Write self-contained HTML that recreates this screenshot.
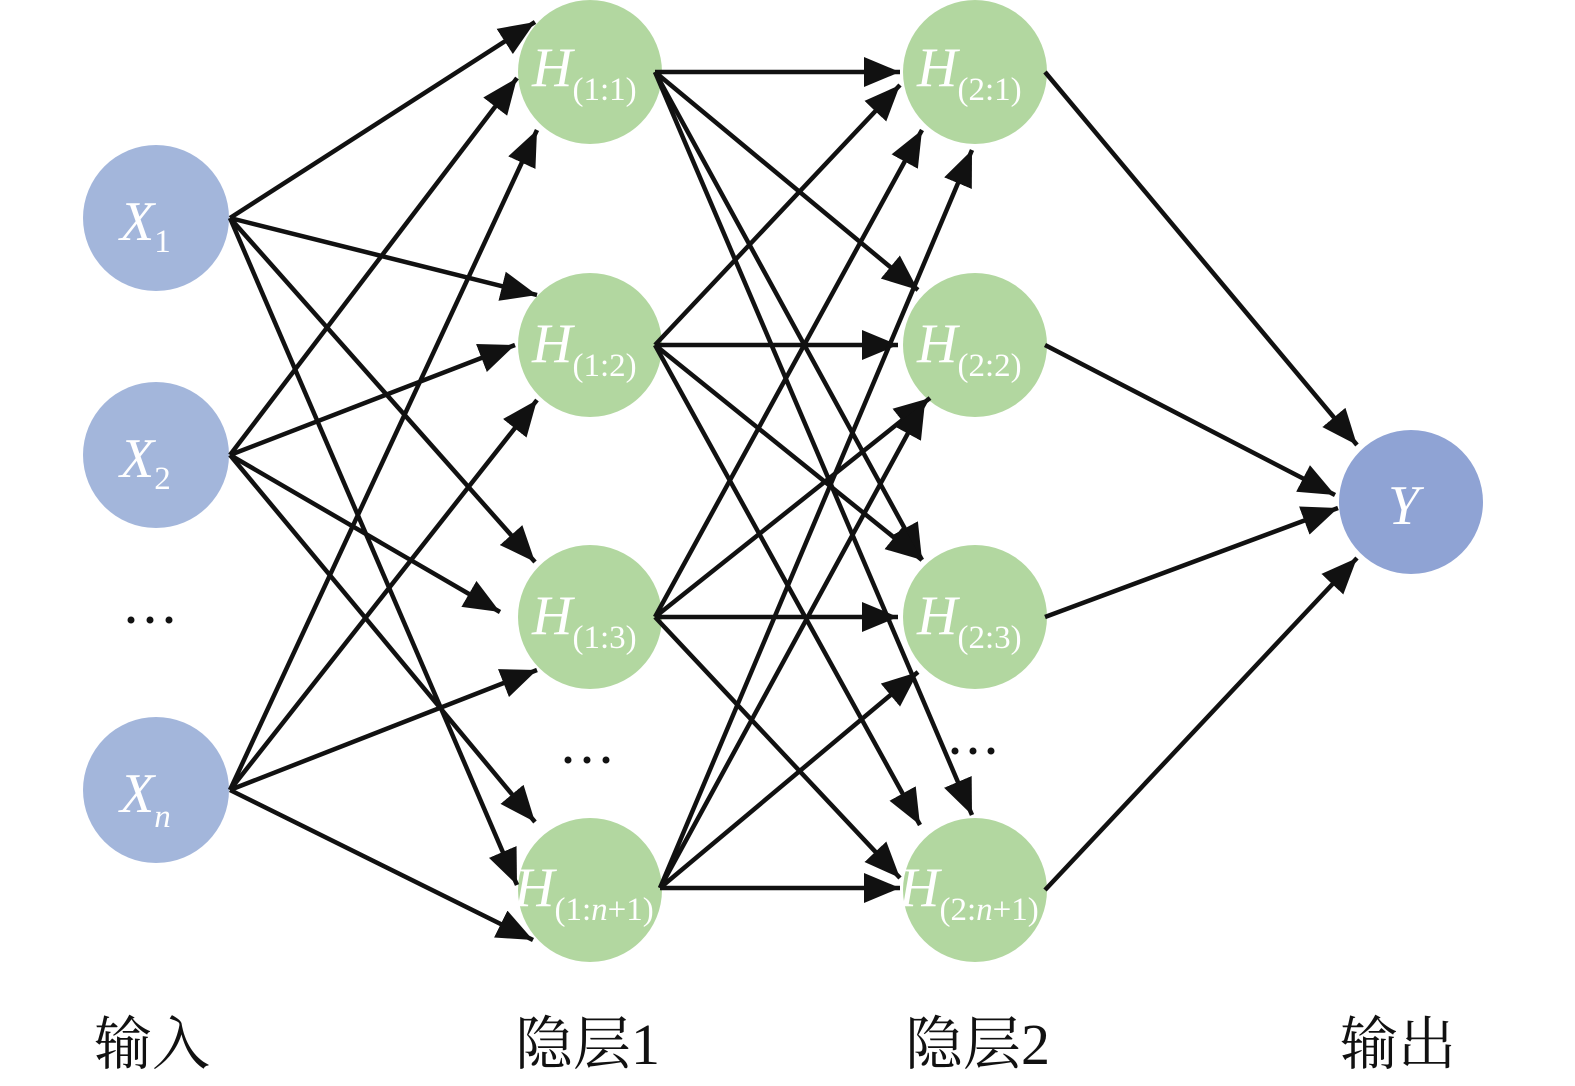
<!DOCTYPE html>
<html><head><meta charset="utf-8"><style>
html,body{margin:0;padding:0;background:#fff;}
svg{display:block}
.n{fill:#fff;font-family:"Liberation Serif",serif;font-style:italic;font-size:56px}
.s{font-style:normal;font-size:33px}
.si{font-style:italic;font-size:33px}
.lab{font-family:"Liberation Serif","Noto Serif CJK SC",serif;font-size:58px;fill:#111}
</style></head><body>
<svg width="1575" height="1086" viewBox="0 0 1575 1086" xmlns="http://www.w3.org/2000/svg">
<defs>
<marker id="a" markerUnits="userSpaceOnUse" markerWidth="38" markerHeight="30" refX="36" refY="15" orient="auto">
<path d="M0,0 L36,15 L0,30 Z" fill="#111"/></marker>
</defs>
<circle cx="156" cy="218" r="73" fill="#A3B6DB"/>
<circle cx="156" cy="455" r="73" fill="#A3B6DB"/>
<circle cx="156" cy="790" r="73" fill="#A3B6DB"/>
<circle cx="590" cy="72" r="72" fill="#B2D7A0"/>
<circle cx="590" cy="345" r="72" fill="#B2D7A0"/>
<circle cx="590" cy="617" r="72" fill="#B2D7A0"/>
<circle cx="590" cy="890" r="72" fill="#B2D7A0"/>
<circle cx="975" cy="72" r="72" fill="#B2D7A0"/>
<circle cx="975" cy="345" r="72" fill="#B2D7A0"/>
<circle cx="975" cy="617" r="72" fill="#B2D7A0"/>
<circle cx="975" cy="890" r="72" fill="#B2D7A0"/>
<circle cx="1411" cy="502" r="72" fill="#8FA3D4"/>
<g stroke="#111" stroke-width="4.5" fill="none" marker-end="url(#a)">
<line x1="230" y1="218" x2="535" y2="22"/>
<line x1="230" y1="218" x2="537" y2="295"/>
<line x1="230" y1="218" x2="535" y2="562"/>
<line x1="230" y1="218" x2="517" y2="885"/>
<line x1="230" y1="455" x2="517" y2="78"/>
<line x1="230" y1="455" x2="515" y2="345"/>
<line x1="230" y1="455" x2="500" y2="612"/>
<line x1="230" y1="455" x2="535" y2="822"/>
<line x1="230" y1="790" x2="537" y2="130"/>
<line x1="230" y1="790" x2="537" y2="400"/>
<line x1="230" y1="790" x2="537" y2="670"/>
<line x1="230" y1="790" x2="533" y2="940"/>

<line x1="655" y1="72" x2="900" y2="72"/>
<line x1="655" y1="72" x2="918" y2="290"/>
<line x1="655" y1="72" x2="922" y2="560"/>
<line x1="655" y1="72" x2="972" y2="815"/>
<line x1="655" y1="345" x2="900" y2="85"/>
<line x1="655" y1="345" x2="898" y2="345"/>
<line x1="655" y1="345" x2="922" y2="560"/>
<line x1="655" y1="345" x2="920" y2="825"/>
<line x1="655" y1="617" x2="922" y2="130"/>
<line x1="655" y1="617" x2="930" y2="398"/>
<line x1="655" y1="617" x2="898" y2="617"/>
<line x1="655" y1="617" x2="900" y2="878"/>
<line x1="660" y1="888" x2="972" y2="150"/>
<line x1="660" y1="888" x2="925" y2="402"/>
<line x1="660" y1="888" x2="918" y2="672"/>
<line x1="660" y1="888" x2="900" y2="888"/>

<line x1="1045" y1="72" x2="1357" y2="445"/>
<line x1="1045" y1="345" x2="1335" y2="495"/>
<line x1="1045" y1="617" x2="1338" y2="508"/>
<line x1="1045" y1="890" x2="1357" y2="558"/>
</g>
<text class="n" x="120" y="240">X<tspan class="s" dy="12">1</tspan></text>
<text class="n" x="120" y="477">X<tspan class="s" dy="12">2</tspan></text>
<text class="n" x="120" y="812">X<tspan class="si" dy="15">n</tspan></text>
<text class="n" x="532" y="86">H<tspan class="s" dy="14">(1:1)</tspan></text>
<text class="n" x="532" y="362">H<tspan class="s" dy="14">(1:2)</tspan></text>
<text class="n" x="532" y="634">H<tspan class="s" dy="14">(1:3)</tspan></text>
<text class="n" x="514" y="906">H<tspan class="s" dy="14">(1:<tspan class="si">n</tspan>+1)</tspan></text>
<text class="n" x="917" y="86">H<tspan class="s" dy="14">(2:1)</tspan></text>
<text class="n" x="917" y="362">H<tspan class="s" dy="14">(2:2)</tspan></text>
<text class="n" x="917" y="634">H<tspan class="s" dy="14">(2:3)</tspan></text>
<text class="n" x="899" y="906">H<tspan class="s" dy="14">(2:<tspan class="si">n</tspan>+1)</tspan></text>
<text class="n" x="1388" y="524">Y</text>
<g fill="#111">
<circle cx="131" cy="620" r="3.5"/><circle cx="150" cy="620" r="3.5"/><circle cx="169" cy="620" r="3.5"/>
<circle cx="568" cy="760" r="3.5"/><circle cx="587" cy="760" r="3.5"/><circle cx="606" cy="760" r="3.5"/>
<circle cx="955" cy="751" r="3.5"/><circle cx="973" cy="751" r="3.5"/><circle cx="991" cy="751" r="3.5"/>
</g>
<text class="lab" x="94" y="1064">输入</text>
<text class="lab" x="515" y="1064">隐层1</text>
<text class="lab" x="905" y="1064">隐层2</text>
<text class="lab" x="1340" y="1064">输出</text>
</svg>
</body></html>
